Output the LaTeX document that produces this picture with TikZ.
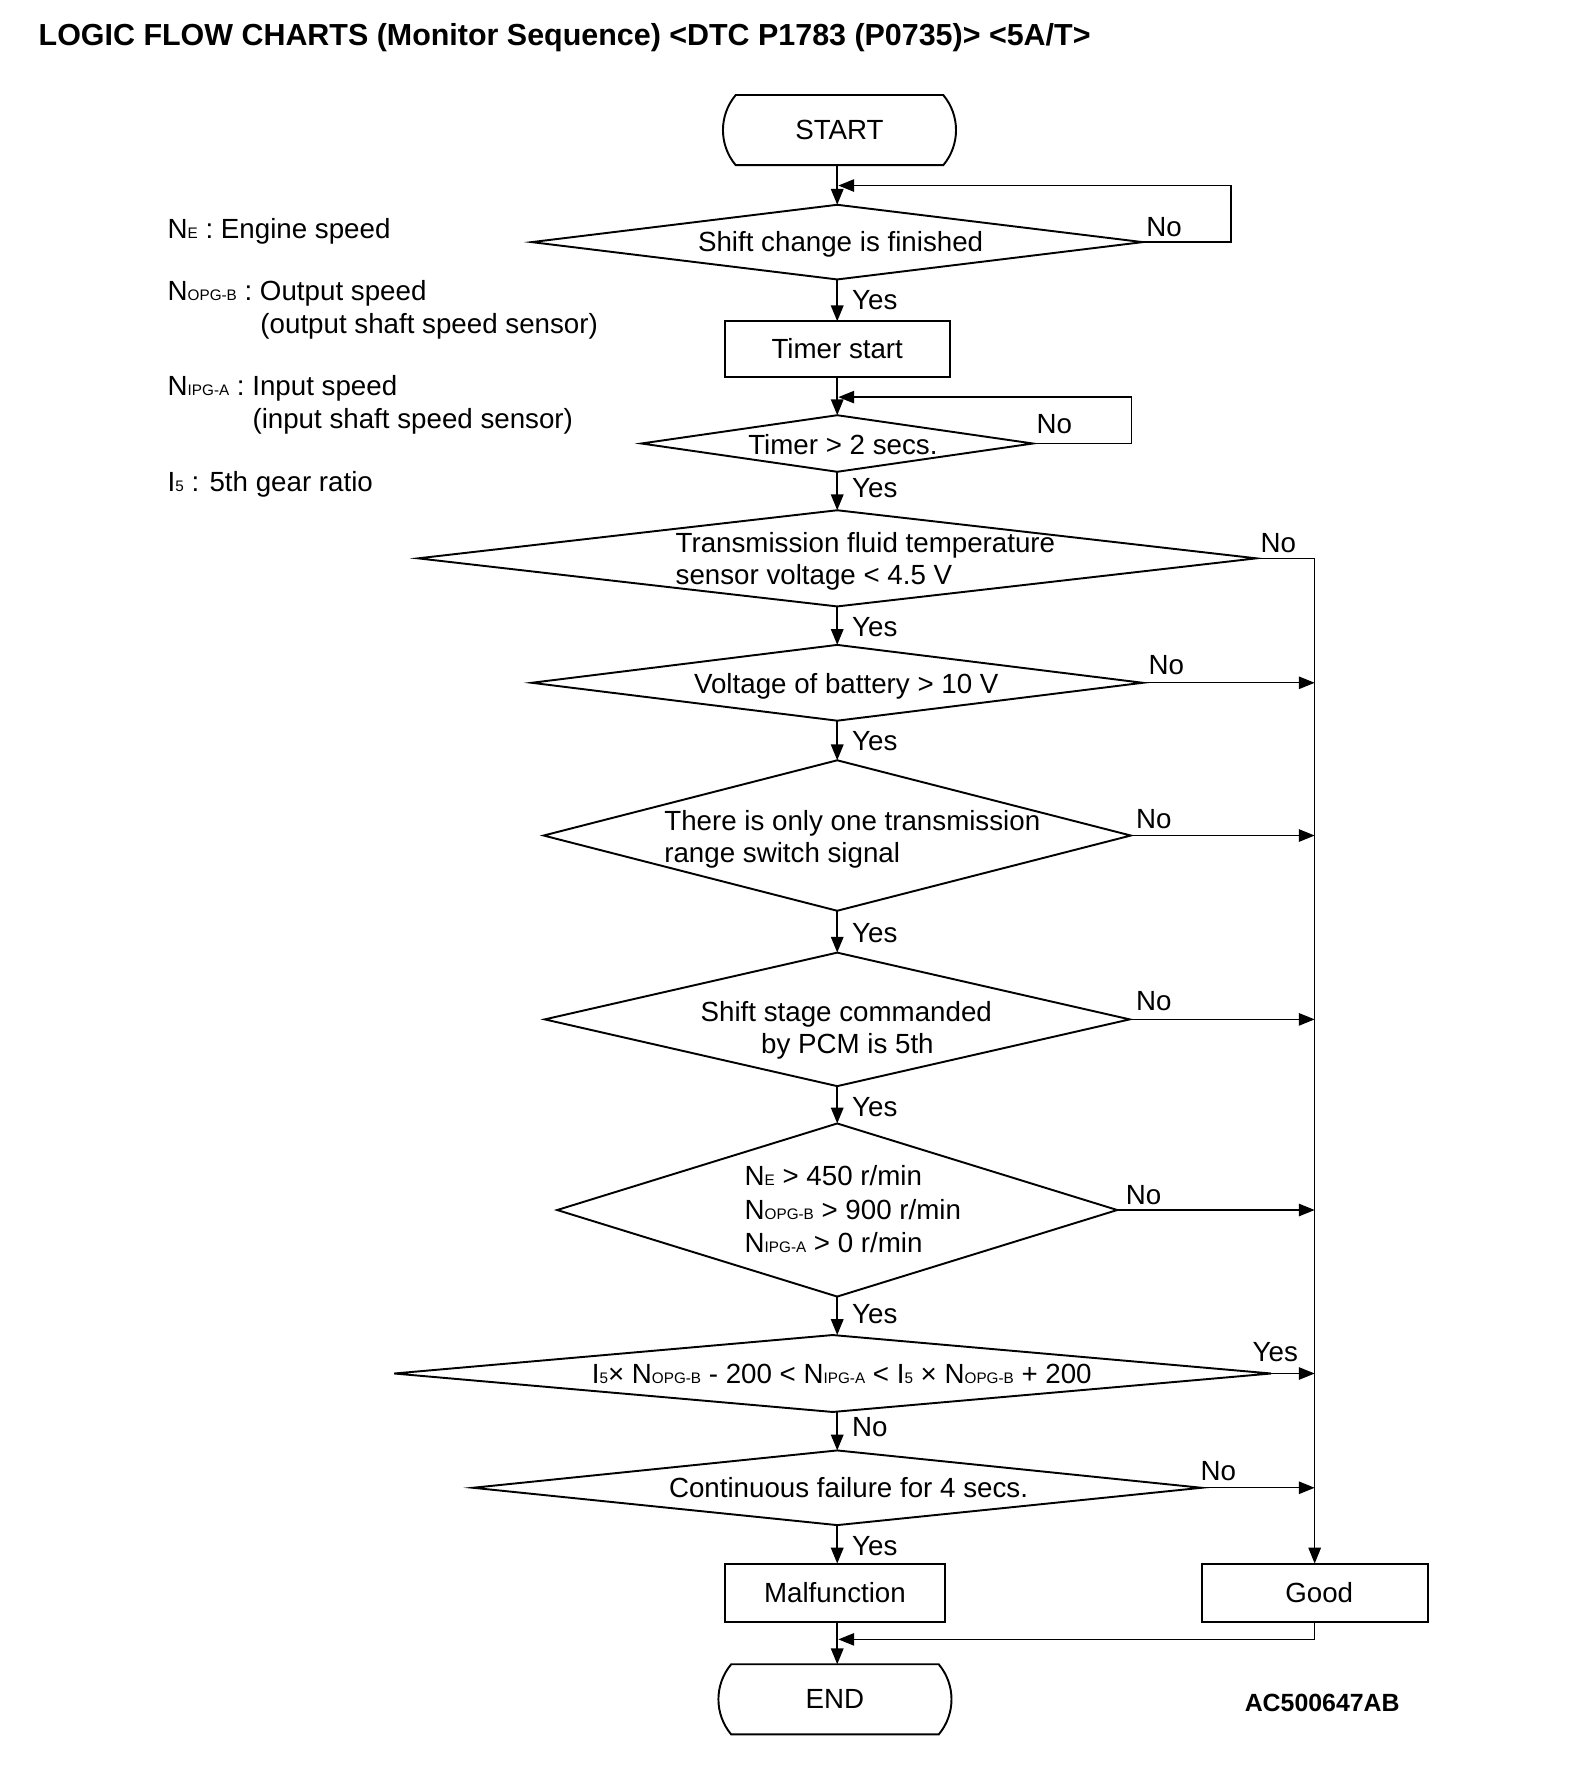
\documentclass[tikz,border=0pt]{standalone}
\usepackage{fontspec}
\setmainfont{Liberation Sans}
\usetikzlibrary{shapes.geometric,shapes.misc,arrows.meta}
\newcommand{\subtxt}[1]{{\fontsize{13.5}{13.5}\selectfont #1}}
\begin{document}
\begin{tikzpicture}[x=1pt,y=-1pt,
  font=\fontsize{24.5}{29}\selectfont,
  shapeln/.style={line width=1.7pt},
  dia/.style={draw,diamond,inner sep=0pt,outer sep=0pt,shapeln},
  boxnode/.style={draw,rectangle,inner sep=0pt,outer sep=0pt,shapeln},
  term/.style={draw,rounded rectangle,rounded rectangle arc length=80,inner sep=0pt,outer sep=0pt,minimum width=206pt,minimum height=62pt,shapeln},
  arr/.style={-{Triangle[length=14pt,width=11pt]}},
  spine/.style={line width=1.7pt,arr},
  side/.style={line width=1.2pt,arr},
  lbl/.style={inner sep=0pt,anchor=base west},
  ctr/.style={inner sep=0pt,anchor=base},
]
\useasboundingbox (0,0) rectangle (1400,1568);

% title
\node[lbl,font=\fontsize{26.9}{30}\selectfont\bfseries] (title) at (34,40.5) {LOGIC FLOW CHARTS (Monitor Sequence) <DTC P1783 (P0735)> <5A/T>};

% legend
\node[lbl] (lg1) at (148,211) {N\subtxt{E} : Engine speed};
\node[lbl] (lg2) at (148,266) {N\subtxt{OPG-B} : Output speed};
\node[lbl] (lg3) at (230,295) {(output shaft speed sensor)};
\node[lbl] (lg4) at (148,350) {N\subtxt{IPG-A} : Input speed};
\node[lbl] (lg5) at (223,379) {(input shaft speed sensor)};
\node[lbl] (lg6) at (148,434) {I\subtxt{5} : 5th gear ratio};

% shapes
\node[term] (start) at (742,115) {START};
\node[dia,minimum width=540pt,minimum height=66pt] (d1) at (740,214) {};
\node[ctr] (t1) at (743,222) {Shift change is finished};
\node[boxnode,minimum width=199pt,minimum height=49pt] (timer) at (740,308.5) {Timer start};
\node[dia,minimum width=346pt,minimum height=50pt] (d2) at (740,392) {};
\node[ctr] (t2) at (745,402) {Timer > 2 secs.};
\node[dia,minimum width=741pt,minimum height=85pt] (d3) at (740,493.5) {};
\node[lbl] (t3a) at (597,488) {Transmission fluid temperature};
\node[lbl] (t3b) at (597,517) {sensor voltage < 4.5 V};
\node[dia,minimum width=540pt,minimum height=67pt] (d4) at (740,603.5) {};
\node[ctr] (t4) at (748,613) {Voltage of battery > 10 V};
\node[dia,minimum width=519pt,minimum height=133pt] (d5) at (740,738.5) {};
\node[lbl] (t5a) at (587,734) {There is only one transmission};
\node[lbl] (t5b) at (587,762) {range switch signal};
\node[dia,minimum width=517pt,minimum height=118pt] (d6) at (740,901) {};
\node[ctr] (t6a) at (748,903) {Shift stage commanded};
\node[ctr] (t6b) at (749,931) {by PCM is 5th};
\node[dia,minimum width=495pt,minimum height=153pt] (d7) at (740,1069.5) {};
\node[lbl] (t7a) at (658,1048) {N\subtxt{E} > 450 r/min};
\node[lbl] (t7b) at (658,1078) {N\subtxt{OPG-B} > 900 r/min};
\node[lbl] (t7c) at (658,1107) {N\subtxt{IPG-A} > 0 r/min};
\node[dia,minimum width=775pt,minimum height=68pt] (d8) at (736,1214) {};
\node[ctr] (t8) at (744,1223) {I\subtxt{5}× N\subtxt{OPG-B} - 200 < N\subtxt{IPG-A} < I\subtxt{5} × N\subtxt{OPG-B} + 200};
\node[dia,minimum width=644pt,minimum height=66pt] (d9) at (740,1315) {};
\node[ctr] (t9) at (750,1324) {Continuous failure for 4 secs.};
\node[boxnode,minimum width=194pt,minimum height=52pt] (mal) at (738,1408) {Malfunction};
\node[boxnode,minimum width=200pt,minimum height=52pt] (good) at (1162,1408) {\hspace{8pt}Good};
\node[term] (end) at (738,1502) {END};
\node[lbl,font=\fontsize{22}{26}\selectfont\bfseries] (code) at (1100,1513) {AC500647AB};

% spine connectors
\draw[spine] (d1.north |- start.south) -- (d1.north);
\draw[spine] (d1.south) -- (timer.north);
\draw[spine] (timer.south) -- (d2.north);
\draw[spine] (d2.south) -- (d3.north);
\draw[spine] (d3.south) -- (d4.north);
\draw[spine] (d4.south) -- (d5.north);
\draw[spine] (d5.south) -- (d6.north);
\draw[spine] (d6.south) -- (d7.north);
\draw[spine] (d7.south) -- (d7.south |- d8.north);
\draw[spine] (d9.north |- d8.south) -- (d9.north);
\draw[spine] (d9.south) -- (d9.south |- mal.north);
\draw[spine] (d9.south |- mal.south) -- (d9.south |- end.north);

% loops
\coordinate (c1) at (1088,164);
\coordinate (j1) at (741,164);
\draw[side] (d1.east) -| (c1) -- (j1);
\coordinate (c2) at (1000,351);
\coordinate (j2) at (741,351);
\draw[side] (d2.east) -| (c2) -- (j2);

% right side
\draw[side] (d3.east) -| (good.north);
\draw[side] (d4.east) -- (d4.east -| good.north);
\draw[side] (d5.east) -- (d5.east -| good.north);
\draw[side] (d6.east) -- (d6.east -| good.north);
\draw[side] (d7.east) -- (d7.east -| good.north);
\draw[side] (d8.east) -- (d8.east -| good.north);
\draw[side] (d9.east) -- (d9.east -| good.north);
\coordinate (j3) at (741,1449);
\draw[side] (good.south) |- (j3);

% Yes / No labels
\node[lbl] (y1) at (753,274) {Yes};
\node[lbl] (y2) at (753,440) {Yes};
\node[lbl] (y3) at (753,563) {Yes};
\node[lbl] (y4) at (753,663) {Yes};
\node[lbl] (y5) at (753,833) {Yes};
\node[lbl] (y6) at (753,987) {Yes};
\node[lbl] (y7) at (753,1170) {Yes};
\node[lbl] (n8) at (753,1270) {No};
\node[lbl] (y9) at (753,1375) {Yes};
\node[lbl] (n1) at (1013,209) {No};
\node[lbl] (n2) at (916,383) {No};
\node[lbl] (n3) at (1114,488) {No};
\node[lbl] (n4) at (1015,596) {No};
\node[lbl] (n5) at (1004,732) {No};
\node[lbl] (n6) at (1004,893) {No};
\node[lbl] (n7) at (995,1065) {No};
\node[lbl] (y8) at (1107,1203) {Yes};
\node[lbl] (n9) at (1061,1309) {No};
\end{tikzpicture}
\end{document}
